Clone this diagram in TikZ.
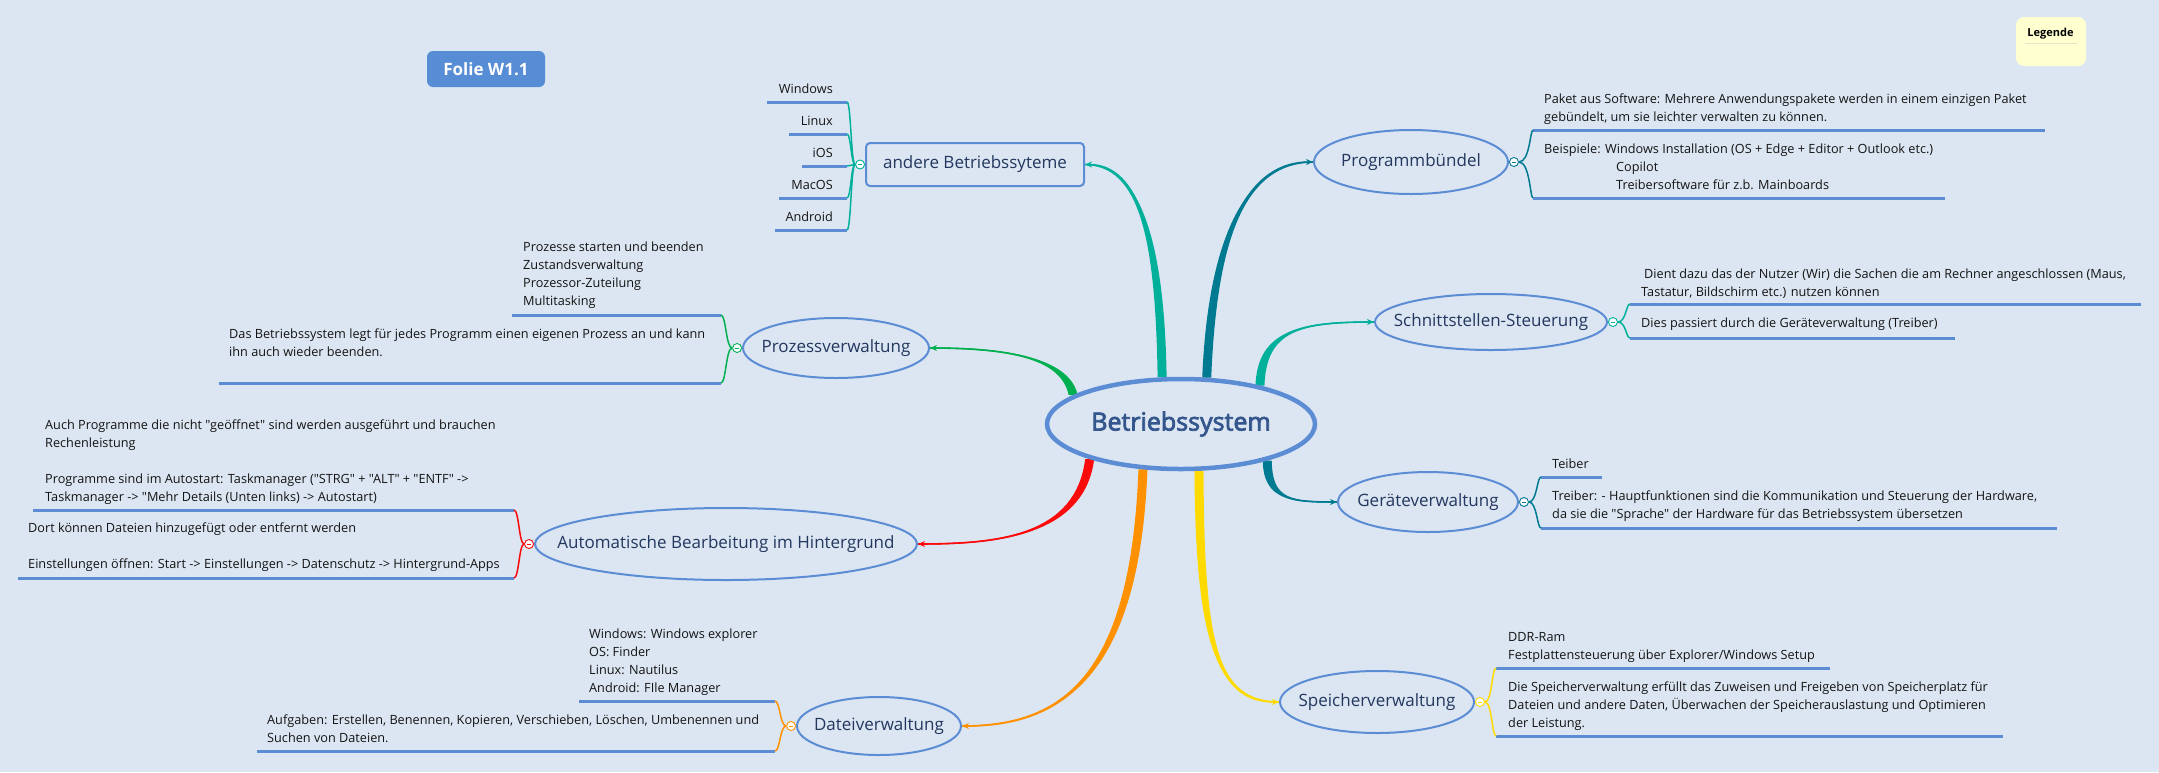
\documentclass[tikz,border=0pt]{standalone}
\usepackage{fontspec}
\setmainfont{Open Sans}
\newfontfamily\osans{Open Sans}
\newfontfamily\centerfont{Open Sans}[FakeBold=3]
\usetikzlibrary{arrows.meta,calc,shapes.geometric}
\pgfdeclarelayer{back}
\pgfdeclarelayer{conn}
\pgfsetlayers{back,conn,main}

\definecolor{bg}{RGB}{220,230,242}
\definecolor{ublue}{RGB}{91,140,212}
\definecolor{cteal}{RGB}{0,176,155}
\definecolor{cdteal}{RGB}{0,122,145}
\definecolor{cgreen}{RGB}{0,176,80}
\definecolor{cred}{RGB}{250,10,10}
\definecolor{corange}{RGB}{255,145,0}
\definecolor{cyellow}{RGB}{255,218,0}
\definecolor{topictext}{RGB}{35,55,95}
\definecolor{centertext}{RGB}{52,86,140}
\definecolor{leaftext}{RGB}{20,20,20}
\definecolor{folieblue}{RGB}{86,141,212}
\definecolor{legyellow}{RGB}{255,255,208}
\definecolor{legline}{RGB}{228,228,200}

% tapered branch: color, start, ctrl1, ctrl2, end, start half-offset, end half-offset
\newcommand\branch[7]{%
  \fill[#1] ($#2+#6$) .. controls ($#3+#6$) and ($#4+#7$) .. ($#5+#7$) -- ($#5-#7$) .. controls ($#4-#7$) and ($#3-#6$) .. ($#2-#6$) -- cycle;
  \draw[#1, line width=1.4pt, -{Stealth[length=7pt,width=6pt]}] #2 .. controls #3 and #4 .. #5;}

\tikzset{
  topic/.style={ellipse, draw=ublue, line width=2pt, inner sep=0pt,
    label={[text=topictext, font=\fontsize{17}{20}\selectfont]center:#1}},
  leaf/.style={inner sep=0pt, align=left, text=leaftext, font=\osans\fontsize{12.7}{18}\selectfont},
  uline/.style={ublue, line width=3pt},
  coll/.style={circle, draw=#1, fill=white, line width=0.9pt, minimum size=9pt, inner sep=0pt,
    path picture={\draw[#1, line width=0.9pt] ([xshift=-2.2pt]path picture bounding box.center) -- ([xshift=2.2pt]path picture bounding box.center);}},
  brace/.style={#1, line width=1.5pt},
}

\begin{document}
\begin{tikzpicture}[x=1pt, y=-1pt]
\begin{pgfonlayer}{back}
\fill[bg] (0,0) rectangle (2159,772);
\end{pgfonlayer}
\useasboundingbox (0,0) rectangle (2159,772);

% title and legend
\node[fill=folieblue, rounded corners=6pt, minimum width=118pt, minimum height=36pt, text=white, font=\fontsize{17}{20}\selectfont\bfseries] (folie) at (486,69) {Folie W1.1};
\node[fill=legyellow, rounded corners=8pt, minimum width=70pt, minimum height=49pt] (leg) at (2051,41.5) {};
\node[font=\fontsize{11}{13}\selectfont\bfseries, anchor=base] (legt) at (2050.5,36) {Legende};
\draw[legline, line width=0.8pt] (2025,43) coordinate (l1) -- (2077,43) coordinate (l2);

% center
\node[ellipse, draw=ublue, line width=4.5pt, minimum width=268pt, minimum height=90pt, inner sep=0pt,
  label={[text=centertext, font=\centerfont\fontsize{25}{30}\selectfont]center:Betriebssystem}] (c) at (1181,424) {};

% topics
\node[rectangle, rounded corners=4pt, draw=ublue, line width=2pt, minimum width=218pt, minimum height=43pt, text=topictext, font=\fontsize{17}{20}\selectfont] (a) at (975,164.5) {andere Betriebssyteme};
\node[topic=Programmbündel, minimum width=194pt, minimum height=64pt] (p) at (1411,162) {};
\node[topic=Schnittstellen-Steuerung, minimum width=232pt, minimum height=56pt] (s) at (1491,322) {};
\node[topic=Geräteverwaltung, minimum width=180pt, minimum height=60pt] (g) at (1428,502) {};
\node[topic=Speicherverwaltung, minimum width=194pt, minimum height=62pt] (sp) at (1377,702) {};
\node[topic=Dateiverwaltung, minimum width=164pt, minimum height=58pt] (d) at (879,726) {};
\node[topic=Automatische Bearbeitung im Hintergrund, minimum width=382pt, minimum height=72pt] (au) at (726,544) {};
\node[topic=Prozessverwaltung, minimum width=186pt, minimum height=60pt] (pz) at (836,348) {};

% collapse circles
\node[coll=cteal, anchor=east] (ac) at (a.west) {};
\node[coll=cdteal, anchor=west] (pc) at (p.east) {};
\node[coll=cteal, anchor=west] (sc) at (s.east) {};
\node[coll=cdteal, anchor=west] (gc) at (g.east) {};
\node[coll=cyellow, anchor=west] (spc) at (sp.east) {};
\node[coll=corange, anchor=east] (dc) at (d.west) {};
\node[coll=cred, anchor=east] (auc) at (au.west) {};
\node[coll=cgreen, anchor=east] (pzc) at (pz.west) {};

% leaves: andere Betriebssyteme
\node[leaf, anchor=base east] (a1) at (833,93) {Windows};
\node[leaf, anchor=base east] (a2) at (833,125) {Linux};
\node[leaf, anchor=base east] (a3) at (833,157) {iOS};
\node[leaf, anchor=base east] (a4) at (833,189) {MacOS};
\node[leaf, anchor=base east] (a5) at (833,221) {Android};

% leaves: Prozessverwaltung
\node[leaf, anchor=north west] (pz1) at (523,242) {Prozesse starten und beenden\\Zustandsverwaltung\\Prozessor-Zuteilung\\Multitasking};
\node[leaf, anchor=north west] (pz2) at (229,329) {Das Betriebssystem legt für jedes Programm einen eigenen Prozess an und kann\\ihn auch wieder beenden.};

% leaves: Automatische Bearbeitung
\node[leaf, anchor=north west] (au1) at (45,420) {Auch Programme die nicht "geöffnet" sind werden ausgeführt und brauchen\\Rechenleistung\\~\\Programme sind im Autostart: Taskmanager ("STRG" + "ALT" + "ENTF" ->\\Taskmanager -> "Mehr Details (Unten links) -> Autostart)};
\node[leaf, anchor=north west] (au2) at (28,523) {Dort können Dateien hinzugefügt oder entfernt werden\\~\\Einstellungen öffnen: Start -> Einstellungen -> Datenschutz -> Hintergrund-Apps};

% leaves: Dateiverwaltung
\node[leaf, anchor=north west] (d1) at (589,629) {Windows: Windows explorer\\OS: Finder\\Linux: Nautilus\\Android: FIle Manager};
\node[leaf, anchor=north west] (d2) at (267,715) {Aufgaben: Erstellen, Benennen, Kopieren, Verschieben, Löschen, Umbenennen und\\Suchen von Dateien.};

% leaves: Programmbündel
\node[leaf, anchor=north west] (p1) at (1544,94) {Paket aus Software: Mehrere Anwendungspakete werden in einem einzigen Paket\\gebündelt, um sie leichter verwalten zu können.};
\node[leaf, anchor=north west] (p2) at (1544,144) {Beispiele: Windows Installation (OS + Edge + Editor + Outlook etc.)\\\hspace*{72pt}Copilot\\\hspace*{72pt}Treibersoftware für z.b. Mainboards};

% leaves: Schnittstellen-Steuerung
\node[leaf, anchor=north west] (s1) at (1641,269) {\hspace*{3pt}Dient dazu das der Nutzer (Wir) die Sachen die am Rechner angeschlossen (Maus,\\Tastatur, Bildschirm etc.) nutzen können};
\node[leaf, anchor=north west] (s2) at (1641,318) {Dies passiert durch die Geräteverwaltung (Treiber)};

% leaves: Geräteverwaltung
\node[leaf, anchor=north west] (g1) at (1552,459) {Teiber};
\node[leaf, anchor=north west] (g2) at (1552,491) {Treiber: - Hauptfunktionen sind die Kommunikation und Steuerung der Hardware,\\da sie die "Sprache" der Hardware für das Betriebssystem übersetzen};

% leaves: Speicherverwaltung
\node[leaf, anchor=north west] (sp1) at (1508,632) {DDR-Ram\\Festplattensteuerung über Explorer/Windows Setup};
\node[leaf, anchor=north west] (sp2) at (1508,682) {Die Speicherverwaltung erfüllt das Zuweisen und Freigeben von Speicherplatz für\\Dateien und andere Daten, Überwachen der Speicherauslastung und Optimieren\\der Leistung.};

\begin{pgfonlayer}{conn}
% underlines
\draw[uline] (767,102) -- (847,102) coordinate (a1u);
\draw[uline] (789,134) -- (847,134) coordinate (a2u);
\draw[uline] (802,166) -- (847,166) coordinate (a3u);
\draw[uline] (779,198) -- (847,198) coordinate (a4u);
\draw[uline] (775,230) -- (847,230) coordinate (a5u);
\draw[uline] (512,315) -- (721,315) coordinate (pz1u);
\draw[uline] (219,383) -- (721,383) coordinate (pz2u);
\draw[uline] (33,510) -- (514,510) coordinate (au1u);
\draw[uline] (18,578) -- (514,578) coordinate (au2u);
\draw[uline] (579,701) -- (775,701) coordinate (d1u);
\draw[uline] (257,751) -- (775,751) coordinate (d2u);
\draw[uline] (2045,130) -- (1533,130) coordinate (p1u);
\draw[uline] (1945,198) -- (1533,198) coordinate (p2u);
\draw[uline] (2141,304) -- (1630,304) coordinate (s1u);
\draw[uline] (1955,338) -- (1630,338) coordinate (s2u);
\draw[uline] (1602,477) -- (1541,477) coordinate (g1u);
\draw[uline] (2057,528) -- (1541,528) coordinate (g2u);
\draw[uline] (1830,668) -- (1496,668) coordinate (sp1u);
\draw[uline] (2003,736) -- (1496,736) coordinate (sp2u);

% brace curves
\foreach \u in {a1u,a2u,a3u,a4u,a5u}
  \draw[brace=cteal] (ac.west) .. controls (851,164.5) and (851,0 |- \u) .. (\u);
\foreach \u in {pz1u,pz2u}
  \draw[brace=cgreen] (pzc.west) .. controls (726,348) and (726,0 |- \u) .. (\u);
\foreach \u in {au1u,au2u}
  \draw[brace=cred] (auc.west) .. controls (519,544) and (519,0 |- \u) .. (\u);
\foreach \u in {d1u,d2u}
  \draw[brace=corange] (dc.west) .. controls (780,726) and (780,0 |- \u) .. (\u);
\foreach \u in {p1u,p2u}
  \draw[brace=cdteal] (pc.east) .. controls (1530,162) and (1530,0 |- \u) .. (\u);
\foreach \u in {s1u,s2u}
  \draw[brace=cteal] (sc.east) .. controls (1626,322) and (1626,0 |- \u) .. (\u);
\foreach \u in {g1u,g2u}
  \draw[brace=cdteal] (gc.east) .. controls (1537,502) and (1537,0 |- \u) .. (\u);
\foreach \u in {sp1u,sp2u}
  \draw[brace=cyellow] (spc.east) .. controls (1492,702) and (1492,0 |- \u) .. (\u);

% main branches
\branch{cteal}{(c.112)}{(1160,240)}{(1140,164.5)}{(a.east)}{(4.5,0)}{(0,-0.8)}
\branch{cdteal}{(c.61)}{(1212,250)}{(1240,162)}{(p.west)}{(4.5,0)}{(0,0.8)}
\branch{cteal}{(c.26)}{(1262,330)}{(1300,322)}{(s.west)}{(4.5,0)}{(0,0.8)}
\branch{cdteal}{(c.337)}{(1268,500)}{(1290,502)}{(g.west)}{(4.5,0)}{(0,-0.8)}
\branch{cyellow}{(c.291)}{(1200,640)}{(1215,702)}{(sp.west)}{(4.5,0)}{(0,-0.8)}
\branch{corange}{(c.230)}{(1135,680)}{(1060,726)}{(d.east)}{(4.5,0)}{(0,0.8)}
\branch{cred}{(c.201)}{(1080,535)}{(1000,544)}{(au.east)}{(4.5,0)}{(0,0.8)}
\branch{cgreen}{(c.165)}{(1066,362)}{(1020,348)}{(pz.east)}{(4.5,0)}{(0,-0.8)}
\end{pgfonlayer}
\end{tikzpicture}
\end{document}
